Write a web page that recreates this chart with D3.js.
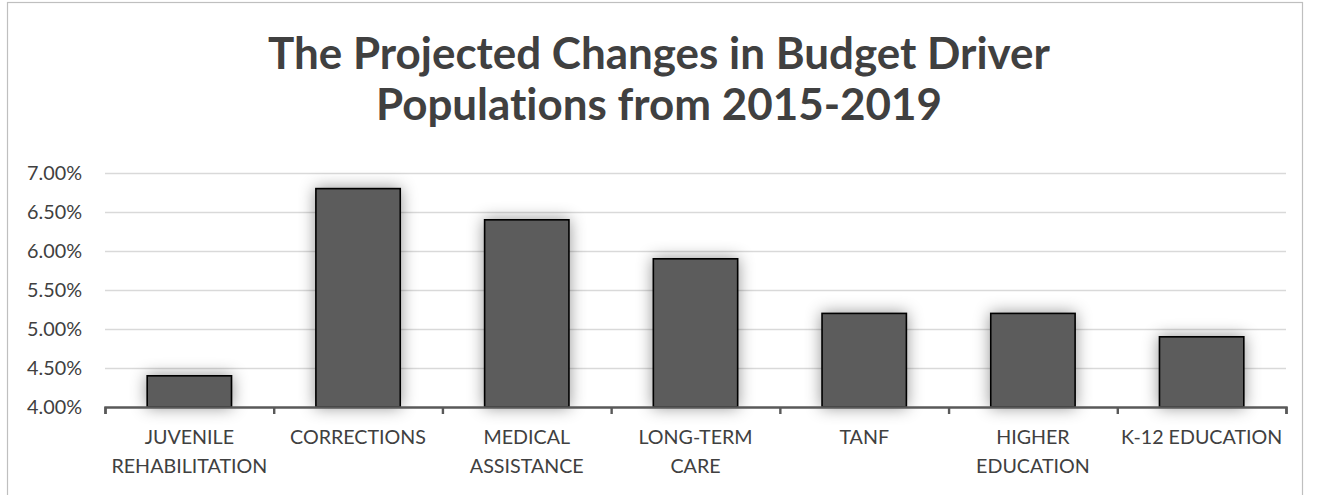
<!DOCTYPE html>
<html>
<head>
<meta charset="utf-8">
<script src="https://cdn.jsdelivr.net/npm/d3@7"></script>
<style>
  html, body { margin: 0; padding: 0; background: #fff; }
  svg { display: block; font-variant-ligatures: none; }
  text { font-variant-ligatures: none; font-feature-settings: "liga" 0, "clig" 0; }
</style>
</head>
<body>
<svg id="chart" width="1317" height="495"></svg>
<script>
// Budget driver populations, projected change 2015-2019
const categories = [
  ["JUVENILE", "REHABILITATION"],
  ["CORRECTIONS"],
  ["MEDICAL", "ASSISTANCE"],
  ["LONG-TERM", "CARE"],
  ["TANF"],
  ["HIGHER", "EDUCATION"],
  ["K-12 EDUCATION"]
];
const values = [4.40, 6.80, 6.40, 5.90, 5.20, 5.20, 4.90];
const yTicks = [4.0, 4.5, 5.0, 5.5, 6.0, 6.5, 7.0];
const titleLines = ["The Projected Changes in Budget Driver", "Populations from 2015-2019"];

const FONT = "Lato, 'Open Sans', sans-serif";
const svg = d3.select("#chart");
const W = 1317, H = 495;
const margin = { left: 105, right: 31, top: 173, bottom: 88 };
const plotW = W - margin.left - margin.right;
const plotH = H - margin.top - margin.bottom;

// scale a text selection's font so a reference string spans the given width
function fitFont(sel, sample, width, weight) {
  const probe = svg.append("text")
    .style("font-family", FONT).style("font-weight", weight || 400)
    .style("font-size", "100px").text(sample);
  const w = probe.node().getComputedTextLength();
  probe.remove();
  sel.style("font-size", (100 * width / w).toFixed(2) + "px");
}

// chart frame
svg.append("rect")
  .attr("x", 7.5).attr("y", 2.5)
  .attr("width", 1295).attr("height", 500)
  .attr("fill", "#fff").attr("stroke", "#bfbfbf").attr("stroke-width", 1.2);

// soft glow behind the bars
const defs = svg.append("defs");
const f = defs.append("filter").attr("id", "glow")
  .attr("x", "-60%").attr("y", "-60%").attr("width", "220%").attr("height", "220%");
f.append("feDropShadow")
  .attr("dx", 0).attr("dy", 0).attr("stdDeviation", 8)
  .attr("flood-color", "#000").attr("flood-opacity", 0.42);

const x = d3.scaleBand()
  .domain(d3.range(categories.length))
  .range([margin.left, margin.left + plotW])
  .paddingInner(0.5).paddingOuter(0.25);

const y = d3.scaleLinear()
  .domain([4.0, 7.0])
  .range([margin.top + plotH, margin.top]);

// horizontal gridlines
svg.append("g")
  .selectAll("line")
  .data(yTicks.filter(t => t > 4.0))
  .join("line")
  .attr("x1", margin.left).attr("x2", margin.left + plotW)
  .attr("y1", d => Math.round(y(d)) + 0.5).attr("y2", d => Math.round(y(d)) + 0.5)
  .attr("stroke", "#d9d9d9").attr("stroke-width", 1.3);

// y axis labels
const yAxis = d3.axisLeft(y)
  .tickValues(yTicks)
  .tickFormat(d => d.toFixed(2) + "%")
  .tickSize(0).tickPadding(23);
const gy = svg.append("g")
  .attr("transform", `translate(${margin.left},0)`)
  .call(yAxis);
gy.select(".domain").remove();
const yLabels = gy.selectAll("text")
  .attr("fill", "#404040")
  .style("font-family", FONT);
fitFont(yLabels, "7.00%", 55);

// bars
svg.append("g")
  .selectAll("rect")
  .data(values)
  .join("rect")
  .attr("x", (d, i) => x(i))
  .attr("width", x.bandwidth())
  .attr("y", d => y(d))
  .attr("height", d => y(4.0) - y(d))
  .attr("fill", "#5b5b5b")
  .attr("stroke", "#000")
  .attr("stroke-width", 1.6)
  .attr("filter", "url(#glow)");

// x axis with ticks between categories
const xb = d3.scaleLinear().domain([0, categories.length]).range([margin.left, margin.left + plotW]);
const gx = svg.append("g")
  .attr("transform", `translate(0,${y(4.0)})`)
  .call(d3.axisBottom(xb).tickValues(d3.range(categories.length + 1))
    .tickSize(7).tickSizeOuter(7).tickFormat(""));
gx.select(".domain").attr("stroke", "#595959").attr("stroke-width", 2.4);
gx.selectAll(".tick line").attr("stroke", "#595959").attr("stroke-width", 2.4);

// category labels
const labels = svg.append("g")
  .selectAll("text")
  .data(categories)
  .join("text")
  .attr("text-anchor", "middle")
  .attr("fill", "#404040")
  .style("font-family", FONT);
fitFont(labels, "CORRECTIONS", 136);
labels.selectAll("tspan")
  .data((d, i) => d.map(s => ({ s, i })))
  .join("tspan")
  .attr("x", d => x(d.i) + x.bandwidth() / 2)
  .attr("y", (d, j) => 444 + j * 29)
  .text(d => d.s);

// title
const title = svg.append("g")
  .selectAll("text")
  .data(titleLines)
  .join("text")
  .attr("x", 659)
  .attr("y", (d, i) => 69 + i * 51)
  .attr("text-anchor", "middle")
  .attr("fill", "#404040")
  .style("font-family", FONT)
  .style("font-weight", 700)
  .text(d => d);
fitFont(title, titleLines[0], 782, 700);
</script>
</body>
</html>
